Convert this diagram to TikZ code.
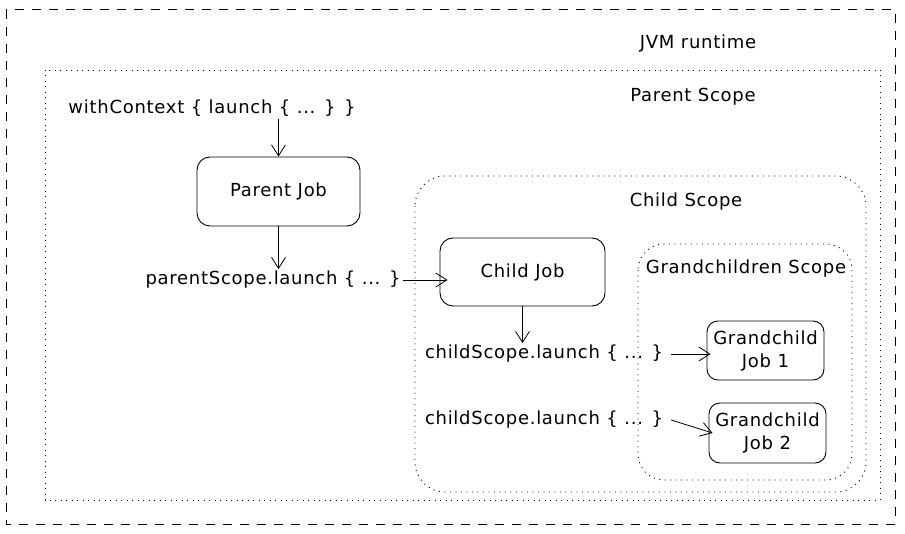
\documentclass[tikz,border=0pt]{standalone}
\usepackage{fontspec}
\setmainfont{DejaVu Sans}[LetterSpace=4]
\usetikzlibrary{arrows.meta,positioning}

\begin{document}
\begin{tikzpicture}[x=1pt,y=-1pt,
job/.style={draw,rounded corners=13pt,align=center,line width=0.9pt,font=\fontsize{18}{23}\selectfont},
frame/.style={draw,dash pattern=on 1pt off 4.5pt,line width=0.9pt},
lbl/.style={font=\fontsize{18}{21}\selectfont,inner sep=2pt},
arr/.style={-{Straight Barb[length=11pt,width=14pt]},line width=0.8pt}
]
\useasboundingbox (0,0) rectangle (905,534);
% runtime and scopes
\draw[dashed,dash pattern=on 9pt off 8pt,line width=1pt] (6,10) rectangle (895,524);
\draw[frame] (45,70) rectangle (880,500);
\draw[frame,rounded corners=30pt] (415,176) rectangle (866,492);
\draw[frame,rounded corners=26pt] (638,244) rectangle (852,480);
\node[lbl] (jvm) at (698,43) {JVM runtime};
\node[lbl] (pscope) at (693,97) {Parent Scope};
\node[lbl] (cscope) at (686,202) {Child Scope};
\node[lbl] (gscope) at (746,269) {Grandchildren Scope};
% jobs
\node[job,minimum width=163pt,minimum height=69pt] (pjob) at (278.5,191.5) {Parent Job};
\node[job,minimum width=165pt,minimum height=68pt] (cjob) at (522.5,272) {Child Job};
\node[job,minimum width=117pt,minimum height=59pt,rounded corners=11pt] (gjob1) at (765.5,350.5) {Grandchild\\Job 1};
\node[job,minimum width=117pt,minimum height=60pt,rounded corners=11pt] (gjob2) at (767.5,433) {Grandchild\\Job 2};
% launch calls
\node[lbl] (ctx) at (212,108) {withContext \{ launch \{ ... \} \}};
\node[lbl] (plaunch) at (273,280) {parentScope.launch \{ ... \}};
\node[lbl] (claunch1) at (544,354) {childScope.launch \{ ... \}};
\node[lbl] (claunch2) at (544,420) {childScope.launch \{ ... \}};
\draw[arr] (pjob.north |- ctx.south) -- (pjob.north);
\draw[arr] (pjob.south) -- (pjob.south |- plaunch.north);
\draw[arr] (plaunch.east) -- ([xshift=8pt]plaunch.east -| cjob.west);
\draw[arr] (cjob.south) -- (cjob.south |- claunch1.north);
\draw[arr] ([xshift=6pt]claunch1.east) -- ([xshift=4pt]claunch1.east -| gjob1.west);
\draw[arr] ([xshift=6pt]claunch2.east) -- ([xshift=4pt]gjob2.west);
\end{tikzpicture}
\end{document}
